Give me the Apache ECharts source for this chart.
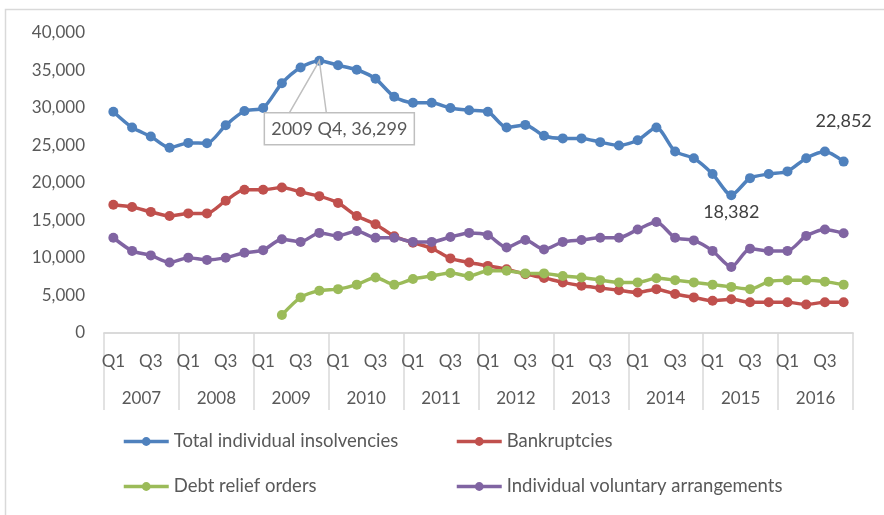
<!DOCTYPE html>
<html>
<head>
<meta charset="utf-8">
<script src="https://cdn.jsdelivr.net/npm/echarts@6/dist/echarts.min.js"></script>
<style>
html,body{margin:0;padding:0;background:#fff;}
#chart{width:884px;height:515px;}
</style>
</head>
<body>
<div id="chart"></div>
<script>
var years = ['2007','2008','2009','2010','2011','2012','2013','2014','2015','2016'];
var quarterNames = ['Q1','Q2','Q3','Q4'];
var quarters = [];
years.forEach(function(){ quarterNames.forEach(function(q){ quarters.push(q); }); });

var totalInsolvencies = [29500, 27400, 26200, 24700, 25350, 25300, 27700, 29600, 30000, 33300,
  35400, 36299, 35700, 35100, 33900, 31500, 30700, 30700, 30000, 29700,
  29500, 27400, 27750, 26300, 25950, 25950, 25450, 25000, 25700, 27400,
  24200, 23300, 21200, 18382, 20650, 21200, 21550, 23300, 24200, 22852];
var bankruptcies = [17100, 16800, 16150, 15600, 15950, 15950, 17650, 19100, 19100, 19400,
  18800, 18250, 17350, 15600, 14500, 12900, 12050, 11300, 9950, 9400,
  8950, 8500, 7850, 7350, 6750, 6300, 6000, 5700, 5400, 5850,
  5200, 4750, 4300, 4500, 4100, 4100, 4100, 3800, 4100, 4100];
var debtReliefOrders = [null, null, null, null, null, null, null, null, null, 2400,
  4750, 5650, 5850, 6450, 7400, 6450, 7200, 7600, 8000, 7600,
  8300, 8300, 7950, 7950, 7600, 7400, 7050, 6750, 6750, 7300,
  7050, 6750, 6450, 6150, 5850, 6850, 7050, 7050, 6850, 6450];
var ivas = [12700, 10950, 10350, 9400, 10050, 9750, 10050, 10700, 11050, 12500,
  12150, 13350, 12950, 13600, 12700, 12700, 12150, 12150, 12800, 13350,
  13050, 11400, 12400, 11150, 12150, 12400, 12700, 12700, 13800, 14800,
  12700, 12350, 10950, 8800, 11250, 10950, 10950, 12950, 13800, 13300];
var yTicks = [0, 5000, 10000, 15000, 20000, 25000, 30000, 35000, 40000];

var seriesNames = ['Total individual insolvencies', 'Bankruptcies', 'Debt relief orders', 'Individual voluntary arrangements'];
var colors = ['#4f81bd', '#c0504d', '#9bbb59', '#8064a2'];
var FONT = 'Lato';
var peakIndex = 11, lowIndex = 33, lastIndex = 39;

function fmt(v){ return Number(v).toLocaleString('en-US'); }

var totalData = totalInsolvencies.map(function(v, i){
  if (i === lowIndex) {
    return {value: v, label: {show: true, position: 'bottom', distance: 3, formatter: function(p){ return fmt(p.value); },
      color: '#404040', fontSize: 18, fontFamily: FONT}};
  }
  if (i === lastIndex) {
    return {value: v, label: {show: true, position: 'top', distance: 26, formatter: function(p){ return fmt(p.value); },
      color: '#404040', fontSize: 18, fontFamily: FONT}};
  }
  return v;
});

function mkSeries(name, data, color) {
  return {
    name: name, type: 'line', data: data, smooth: 0.25,
    symbol: 'circle', symbolSize: 10, showSymbol: true,
    lineStyle: {width: 3.5, color: color},
    itemStyle: {color: color},
    emphasis: {disabled: true},
    animation: false, z: 3
  };
}

var axisGray = '#d9d9d9';
var option = {
  animation: false,
  color: colors,
  grid: {left: 104, right: 31, top: 33, bottom: 182},
  xAxis: [{
    type: 'category', data: quarters, boundaryGap: true, position: 'bottom',
    axisLine: {show: true, lineStyle: {color: axisGray, width: 1.5}},
    axisTick: {show: false},
    axisLabel: {interval: 1, margin: 20, color: '#595959', fontSize: 17, fontFamily: FONT}
  }, {
    type: 'category', data: years, boundaryGap: true, position: 'bottom',
    axisLine: {show: true, lineStyle: {color: axisGray, width: 1.5}},
    axisTick: {show: true, length: 77, lineStyle: {color: axisGray, width: 1.5}},
    axisLabel: {interval: 0, margin: 57, color: '#595959', fontSize: 17, fontFamily: FONT}
  }],
  yAxis: {
    type: 'value', min: yTicks[0], max: yTicks[yTicks.length - 1], interval: yTicks[1] - yTicks[0],
    axisLine: {show: false}, axisTick: {show: false}, splitLine: {show: false},
    axisLabel: {margin: 19, color: '#595959', fontSize: 17, fontFamily: FONT, formatter: function(v){ return fmt(v); }}
  },
  legend: [
    {data: [seriesNames[0]], left: 122, top: 432},
    {data: [seriesNames[1]], left: 455, top: 432},
    {data: [seriesNames[2]], left: 122, top: 477},
    {data: [seriesNames[3]], left: 455, top: 477}
  ].map(function(l){
    l.itemWidth = 45; l.itemHeight = 11; l.itemGap = 0; l.padding = 0;
    l.lineStyle = {width: 3.5};
    l.textStyle = {color: '#595959', fontSize: 18.5, fontFamily: FONT};
    return l;
  }),
  series: [
    mkSeries(seriesNames[0], totalData, colors[0]),
    mkSeries(seriesNames[1], bankruptcies, colors[1]),
    mkSeries(seriesNames[2], debtReliefOrders, colors[2]),
    mkSeries(seriesNames[3], ivas, colors[3])
  ]
};

var chart = echarts.init(document.getElementById('chart'), null, {renderer: 'canvas'});
chart.setOption(option);

// callout for peak, anchored on the data point through the axis scales
var apex = chart.convertToPixel({xAxisIndex: 0, yAxisIndex: 0}, [peakIndex, totalInsolvencies[peakIndex]]);
var boxL = apex[0] - 55, boxT = apex[1] + 52, boxW = 150, boxH = 32;
var calloutText = years[Math.floor(peakIndex / 4)] + ' ' + quarters[peakIndex] + ', ' + fmt(totalInsolvencies[peakIndex]);
chart.setOption({
  graphic: [
    {type: 'rect', left: 3, top: 7, shape: {x: 0, y: 0, width: 1000, height: 1000},
      style: {fill: 'none', stroke: '#d9d9d9', lineWidth: 1.5}, silent: true, z: 0},
    {type: 'rect', shape: {x: boxL, y: boxT, width: boxW, height: boxH},
      style: {fill: '#fff', stroke: '#bfbfbf', lineWidth: 1.5}, z: 10},
    {type: 'polyline', shape: {points: [[boxL + 25, boxT], [apex[0], apex[1]], [boxL + 62, boxT]]},
      style: {stroke: '#bfbfbf', lineWidth: 1.5, fill: null}, z: 10},
    {type: 'text', x: boxL + boxW / 2, y: boxT + boxH / 2,
      style: {text: calloutText, fill: '#595959', fontSize: 18, fontFamily: FONT, align: 'center', verticalAlign: 'middle'}, z: 11}
  ]
});
</script>
</body>
</html>
